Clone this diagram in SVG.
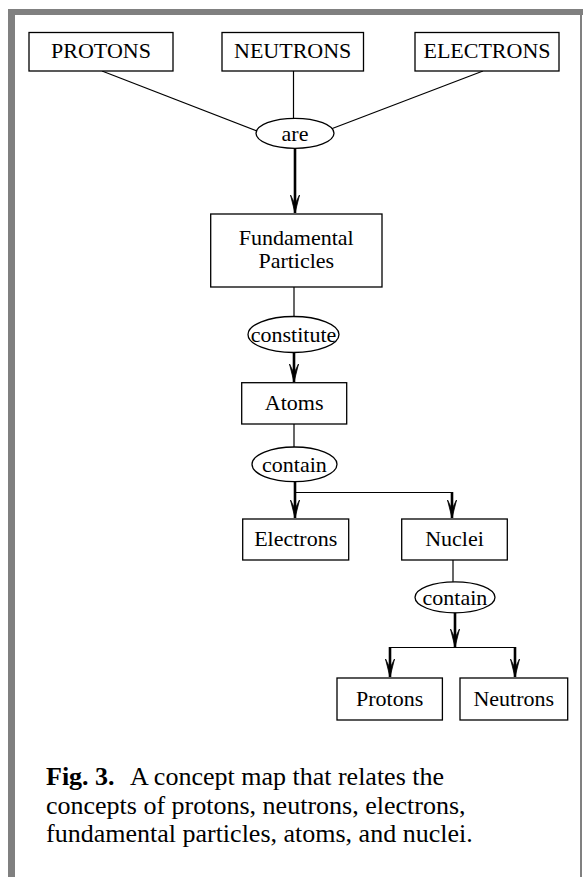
<svg xmlns="http://www.w3.org/2000/svg" width="583" height="877" viewBox="0 0 583 877">
<style>
.box{fill:#fff;stroke:#000;stroke-width:1.3}
.ell{fill:#fff;stroke:#000;stroke-width:1.3}
.t{font-family:"Liberation Serif","Times New Roman",serif;font-size:22px;fill:#000;text-anchor:middle}
.thin{stroke:#000;stroke-width:1.2;fill:none}
.thick{stroke:#000;stroke-width:2.6;fill:none;marker-end:url(#ah)}
.cap{font-family:"Liberation Serif","Times New Roman",serif;font-size:26px;fill:#000}
</style>
<defs>
<marker id="ah" markerUnits="userSpaceOnUse" viewBox="-20 -6 21 12" refX="0" refY="0" markerWidth="21" markerHeight="12" orient="auto">
<path d="M0,0 L-18,-4.5 L-9,0 L-18,4.5 Z" fill="#000" stroke="#000" stroke-width="0.8" stroke-linejoin="miter"/>
</marker>
</defs>
<rect width="583" height="877" fill="#fff"/>
<g id="frame" fill="#808080">
<rect x="8" y="9" width="575" height="6"/>
<rect x="8" y="9" width="7" height="868"/>
<rect x="580" y="9" width="2" height="868"/>
</g>
<g id="connectors">
<line class="thin" x1="102" y1="71" x2="257" y2="131"/>
<line class="thin" x1="293.5" y1="71" x2="293.5" y2="118"/>
<line class="thin" x1="483" y1="71" x2="331" y2="129"/>
<line class="thick" x1="295" y1="148" x2="295" y2="213"/>
<line class="thin" x1="294" y1="287" x2="294" y2="316"/>
<line class="thick" x1="294" y1="352" x2="294" y2="382"/>
<line class="thin" x1="294" y1="424" x2="294" y2="447"/>
<line class="thick" x1="295" y1="481" x2="295" y2="518"/>
<line class="thin" x1="295" y1="492.5" x2="452" y2="492.5"/>
<line class="thick" x1="452" y1="492" x2="452" y2="518"/>
<line class="thin" x1="453" y1="560" x2="453" y2="582"/>
<line class="thick" x1="455" y1="612" x2="455" y2="647"/>
<line class="thin" x1="390" y1="647.5" x2="515" y2="647.5"/>
<line class="thick" x1="390" y1="647" x2="390" y2="677"/>
<line class="thick" x1="515" y1="647" x2="515" y2="677"/>
</g>
<g id="n-protons-top"><rect class="box" x="29" y="32.5" width="144" height="38.5"/><text class="t" x="101" y="57.5">PROTONS</text></g>
<g id="n-neutrons-top"><rect class="box" x="222" y="32.5" width="141.5" height="38.5"/><text class="t" x="292.7" y="57.5">NEUTRONS</text></g>
<g id="n-electrons-top"><rect class="box" x="415" y="32.5" width="144" height="38.5"/><text class="t" x="487" y="57.5">ELECTRONS</text></g>
<g id="l-are"><ellipse class="ell" cx="295" cy="133.3" rx="39" ry="15"/><text class="t" x="295" y="140.5">are</text></g>
<g id="n-fundamental"><rect class="box" x="210.7" y="214" width="171.3" height="73"/><text class="t" x="296.3" y="244.5">Fundamental</text><text class="t" x="296.3" y="268">Particles</text></g>
<g id="l-constitute"><ellipse class="ell" cx="293.5" cy="334.5" rx="45.5" ry="18"/><text class="t" x="293.5" y="342">constitute</text></g>
<g id="n-atoms"><rect class="box" x="241.7" y="382.7" width="105" height="41.3"/><text class="t" x="294.2" y="410">Atoms</text></g>
<g id="l-contain1"><ellipse class="ell" cx="294.5" cy="464.3" rx="42.5" ry="17.3"/><text class="t" x="294.5" y="472">contain</text></g>
<g id="n-electrons"><rect class="box" x="242.7" y="519" width="106" height="41"/><text class="t" x="295.7" y="546">Electrons</text></g>
<g id="n-nuclei"><rect class="box" x="401.7" y="519" width="105.6" height="41"/><text class="t" x="454.5" y="546">Nuclei</text></g>
<g id="l-contain2"><ellipse class="ell" cx="455" cy="597.3" rx="40" ry="15.5"/><text class="t" x="455" y="605">contain</text></g>
<g id="n-protons"><rect class="box" x="337" y="678" width="105.4" height="42"/><text class="t" x="389.7" y="706">Protons</text></g>
<g id="n-neutrons"><rect class="box" x="460" y="678" width="107.7" height="42"/><text class="t" x="513.8" y="706">Neutrons</text></g>
<g id="caption">
<text class="cap" x="46" y="785"><tspan font-weight="bold">Fig. 3.</tspan><tspan x="130">A concept map that relates the</tspan></text>
<text class="cap" x="46" y="813.5">concepts of protons, neutrons, electrons,</text>
<text class="cap" x="46" y="842">fundamental particles, atoms, and nuclei.</text>
</g>
</svg>
